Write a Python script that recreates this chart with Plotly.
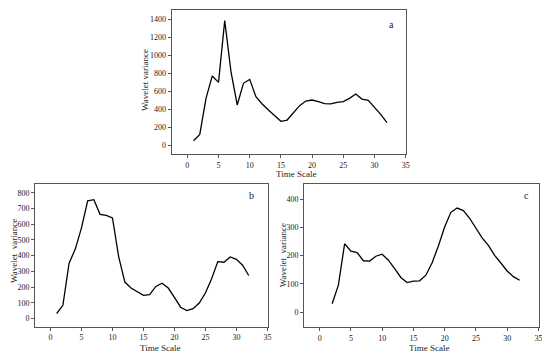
import plotly.graph_objects as go

# ---- data ----
x_a = list(range(1, 33))
var_a = [48, 119, 520, 769, 698, 1385, 817, 446, 687, 731, 538, 457, 390, 323, 264, 278,
         353, 438, 490, 501, 483, 460, 457, 475, 483, 520, 568, 512, 497, 420, 342, 249]

x_b = list(range(1, 33))
var_b = [32, 84, 352, 442, 577, 749, 756, 663, 657, 640, 394, 232, 194, 173, 147, 152,
         204, 225, 194, 135, 72, 51, 63, 99, 162, 253, 362, 358, 392, 377, 339, 274]

x_c = list(range(2, 33))
var_c = [30, 96, 242, 216, 211, 182, 181, 198, 205, 184, 154, 123, 105, 110, 111, 131,
         175, 234, 301, 353, 368, 359, 332, 298, 263, 236, 201, 174, 146, 126, 113]

x_ticks = [0, 5, 10, 15, 20, 25, 30, 35]
y_ticks_a = [0, 200, 400, 600, 800, 1000, 1200, 1400]
y_ticks_b = [0, 100, 200, 300, 400, 500, 600, 700, 800]
y_ticks_c = [0, 100, 200, 300, 400]

# page body has an 8px default margin; the figure is sized so it fills the window
OFF = 8
W, H = 550 - OFF, 357 - OFF
FONT = "Liberation Serif"

def px(x):
    return (x - OFF) / W

def py(y):
    return 1 - (y - OFF) / H

fig = go.Figure()
line = dict(color="black", width=1.3)
fig.add_trace(go.Scatter(x=x_a, y=var_a, mode="lines", line=line, xaxis="x", yaxis="y", showlegend=False))
fig.add_trace(go.Scatter(x=x_b, y=var_b, mode="lines", line=line, xaxis="x2", yaxis="y2", showlegend=False))
fig.add_trace(go.Scatter(x=x_c, y=var_c, mode="lines", line=line, xaxis="x3", yaxis="y3", showlegend=False))

def xax(dom, anchor):
    return dict(domain=dom, anchor=anchor, range=[-2.5, 35.1], tickvals=x_ticks,
                showline=True, mirror=True, linecolor="#555", linewidth=1,
                ticks="outside", ticklen=3, tickcolor="#555", showgrid=False, zeroline=False,
                automargin=False,
                tickfont=dict(family=FONT, size=8, color="#222"))

def yax(dom, anchor, rng, tv):
    return dict(domain=dom, anchor=anchor, range=rng, tickvals=tv,
                showline=True, mirror=True, linecolor="#555", linewidth=1,
                ticks="outside", ticklen=3, tickcolor="#555", showgrid=False, zeroline=False,
                automargin=False,
                tickfont=dict(family=FONT, size=8, color="#222"))

fig.update_layout(
    width=W, height=H, margin=dict(l=0, r=0, t=0, b=0),
    paper_bgcolor="white", plot_bgcolor="white",
    xaxis=xax([px(171.7), px(406.3)], "y"),
    yaxis=yax([py(154), py(10.3)], "x", [-100, 1500], y_ticks_a),
    xaxis2=xax([px(35), px(268)], "y2"),
    yaxis2=yax([py(326.7), py(183.7)], "x2", [-52, 858], y_ticks_b),
    xaxis3=xax([px(304), px(539)], "y3"),
    yaxis3=yax([py(327.3), py(184)], "x3", [-53, 453], y_ticks_c),
)

def ann(txt, x, y, size, angle=0):
    fig.add_annotation(text=txt, x=px(x), y=py(y), xref="paper", yref="paper",
                       showarrow=False, font=dict(family=FONT, size=size, color="#222"),
                       xanchor="center", yanchor="middle", textangle=angle, borderpad=0)

# panel letters
ann("a", 391, 24, 10)
ann("b", 251.7, 195, 10)
ann("c", 526, 195.7, 10)
# axis titles
ann("Time Scale", 295.7, 174.2, 9)
ann("Time Scale", 160, 347.5, 9)
ann("Time Scale", 429.3, 348.2, 9)
ann("Wavelet variance", 145, 80, 9, -90)
ann("Wavelet  variance", 13.3, 250.7, 9, -90)
ann("Wavelet  variance", 283.3, 255, 9, -90)

fig.write_html("out.html")
